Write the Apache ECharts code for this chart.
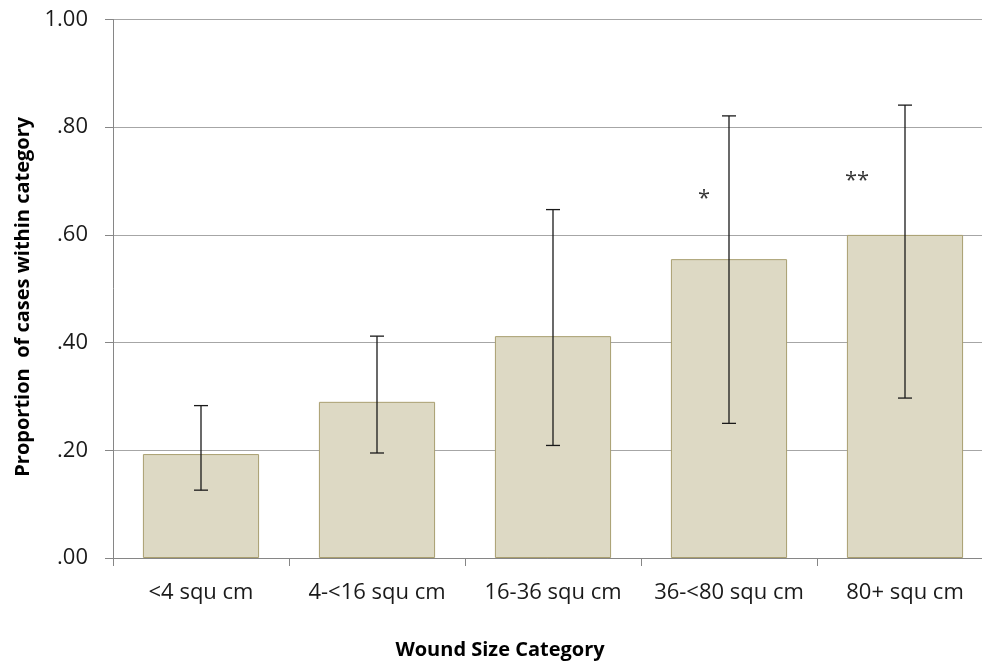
<!DOCTYPE html>
<html>
<head>
<meta charset="utf-8">
<script src="https://cdn.jsdelivr.net/npm/echarts@6/dist/echarts.min.js"></script>
<style>
  html, body { margin: 0; padding: 0; background: #fff; overflow: hidden; }
  #chart { width: 982px; height: 665px; }
</style>
</head>
<body>
<div id="chart"></div>
<script type="text/javascript">
    // wound size categories and proportions
    var categories = ['<4 squ cm', '4-<16 squ cm', '16-36 squ cm', '36-<80 squ cm', '80+ squ cm'];
    var proportion = [0.193, 0.290, 0.412, 0.555, 0.600];
    var errLow = [0.126, 0.195, 0.209, 0.250, 0.297];
    var errHigh = [0.283, 0.412, 0.647, 0.821, 0.841];
    // significance marks
    var sigIndex = [3, 4];
    var sigY = [0.667, 0.700];
    var sigText = ['*', '**'];
    var sigShift = [-25, -48];

    var font = '"Open Sans", sans-serif';
    var myChart = echarts.init(document.getElementById('chart'));

    var errData = categories.map(function (c, i) {
        return [i, errLow[i], errHigh[i]];
    });

    var sigData = sigIndex.map(function (idx, i) {
        return {
            value: [idx, sigY[i]],
            label: { formatter: sigText[i], offset: [sigShift[i], 0] }
        };
    });

    var option = {
        animation: false,
        // plot runs a little past the right edge, as in the original
        grid: { left: 113, width: 880, top: 19.5, bottom: 107, outerBoundsMode: 'none' },
        xAxis: {
            type: 'category',
            data: categories,
            boundaryGap: true,
            axisLine: { lineStyle: { color: '#868686', width: 1 } },
            axisTick: { show: true, length: 8, lineStyle: { color: '#868686' } },
            axisLabel: { interval: 0, color: '#1a1a1a', fontFamily: font, fontSize: 22, margin: 24 },
            name: 'Wound Size Category',
            nameLocation: 'middle',
            nameGap: 82,
            // title sits centred on the visible part of the chart
            nameTextStyle: { color: '#000', fontFamily: font, fontSize: 20, fontWeight: 'bold', padding: [0, 106, 0, 0] }
        },
        yAxis: {
            type: 'value',
            min: 0,
            max: 1,
            interval: 0.2,
            axisLine: { show: true, lineStyle: { color: '#868686', width: 1 } },
            axisTick: { show: true, length: 8, lineStyle: { color: '#868686' } },
            splitLine: { lineStyle: { color: '#a6a6a6', width: 1 } },
            axisLabel: {
                color: '#1a1a1a', fontFamily: font, fontSize: 22, margin: 25,
                formatter: function (v) { return v.toFixed(2).replace(/^0/, ''); }
            },
            name: 'Proportion  of cases within category',
            nameLocation: 'middle',
            nameGap: 80,
            nameRotate: 90,
            nameTextStyle: { color: '#000', fontFamily: font, fontSize: 20, fontWeight: 'bold', padding: [0, 16, 0, 0] }
        },
        series: [
            {
                name: 'proportion',
                type: 'bar',
                data: proportion,
                barWidth: '66%',
                itemStyle: { color: '#ddd9c4', borderColor: '#a99f70', borderWidth: 1 }
            },
            {
                name: 'ci',
                type: 'custom',
                data: errData,
                z: 5,
                renderItem: function (params, api) {
                    var i = api.value(0);
                    var lo = api.coord([i, api.value(1)]);
                    var hi = api.coord([i, api.value(2)]);
                    var cap = 7;
                    var st = { stroke: '#1a1a1a', lineWidth: 1.3 };
                    return {
                        type: 'group',
                        children: [
                            { type: 'line', shape: { x1: hi[0], y1: hi[1], x2: lo[0], y2: lo[1] }, style: st },
                            { type: 'line', shape: { x1: hi[0] - cap, y1: hi[1], x2: hi[0] + cap, y2: hi[1] }, style: st },
                            { type: 'line', shape: { x1: lo[0] - cap, y1: lo[1], x2: lo[0] + cap, y2: lo[1] }, style: st }
                        ]
                    };
                }
            },
            {
                name: 'sig',
                type: 'scatter',
                symbolSize: 0,
                data: sigData,
                label: {
                    show: true,
                    position: 'inside',
                    color: '#000',
                    fontFamily: font,
                    fontSize: 22
                }
            }
        ]
    };
    myChart.setOption(option);
</script>
</body>
</html>
